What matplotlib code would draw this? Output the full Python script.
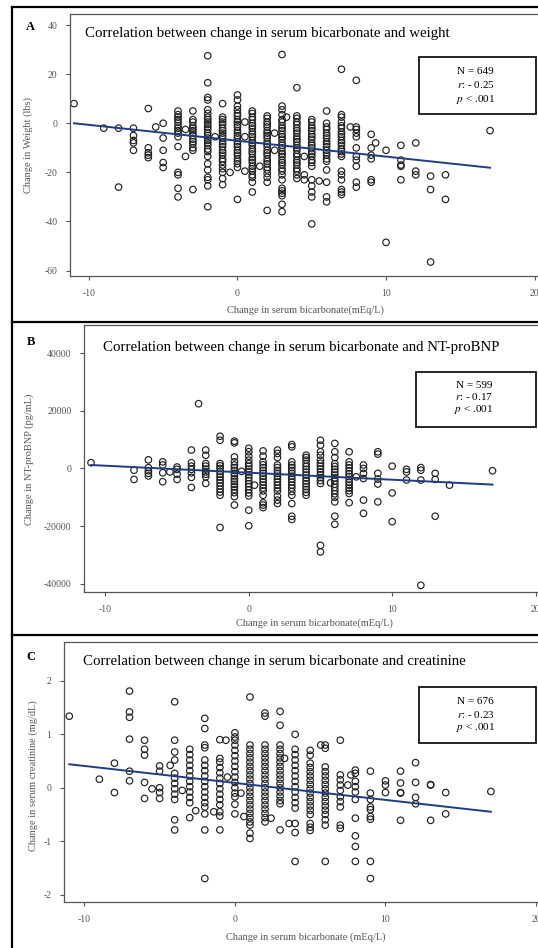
import matplotlib
matplotlib.use("Agg")
import matplotlib.pyplot as plt
from matplotlib.lines import Line2D
from matplotlib.patches import Rectangle

plt.rcParams['font.family'] = ['Liberation Serif', 'DejaVu Serif']
plt.rcParams['mathtext.fontset'] = 'stix'
plt.rcParams['axes.unicode_minus'] = False

W, H = 538, 948

# ---- Panel A: change in weight (lbs) by change in bicarbonate column ----
a_cols = [-11, -9, -8, -7, -6, -5.5, -5, -4, -3.5, -3, -2, -1.5, -1, -0.5, 0, 0.5, 1, 1.5,
          2, 2.5, 3, 3.3, 4, 4.5, 5, 5.5, 6, 7, 7.6, 8, 9, 9.3, 10, 11, 12, 13, 14, 17]
a_vals = [
    [8], [-2], [-2, -26], [-2, -5, -7, -8, -11], [6, -10, -12, -13, -14], [-1.5],
    [0, -6, -11, -16, -18],
    [5, 3.5, 2.5, 1.5, 0.5, -1, -2, -3, -4, -5.5, -9.5, -20, -21, -26.5, -30],
    [-2.5, -13.5],
    [5, 1.5, 0.5, -1, -2, -3, -4, -5, -6.5, -7.5, -8.5, -10, -11, -27],
    [27.5, 16.5, 10.5, 9.5, 5.5, 4, 2.5, 1.5, 0.5, -0.5, -1.5, -2.5, -4, -5, -6, -7, -8, -9,
     -10.5, -11.5, -13.5, -16.5, -19, -22, -23, -25.5, -34],
    [-5.5],
    [8, 2.5, 1.5, 0.5, -0.5, -2, -3, -4, -5, -6, -7.5, -8.5, -9.5, -11, -12, -13, -14.5,
     -15.5, -17, -18.5, -20, -22.5, -25],
    [-20],
    [11.5, 9.5, 7, 5.5, 4, 3, 1.5, 0.5, -0.5, -1.5, -3, -4, -5, -6, -7.5, -8.5, -9.5, -11,
     -12, -13, -14.5, -15.5, -16.5, -18, -31],
    [0.5, -5.5, -19.5],
    [5, 4, 2.5, 1.5, 0, -1, -2, -3.5, -4.5, -5.5, -7, -8, -9, -10.5, -11.5, -12.5, -14, -15,
     -16, -17.5, -18.5, -19.5, -21, -22, -24, -28],
    [-17.5],
    [3, 2, 0.5, -0.5, -1.5, -3, -4, -5, -6, -7.5, -8.5, -9.5, -11, -12, -13, -14.5, -15.5,
     -16.5, -18, -19, -20.5, -22, -24, -35.5],
    [-4, -11],
    [28, 7, 5.5, 3.5, 1.5, 0.5, -1, -2, -3, -4.5, -5.5, -6.5, -8, -9, -10, -11.5, -12.5,
     -13.5, -15, -16, -17, -18.5, -19.5, -21, -23, -26.5, -27.5, -28.5, -29.5, -33, -36],
    [2.5],
    [14.5, 3, 2, 0.5, -0.5, -2, -3, -4, -5.5, -6.5, -7.5, -9, -10, -11, -12.5, -13.5, -15,
     -16, -17, -18.5, -19.5, -21, -22.5],
    [-13.5, -21, -23],
    [1.5, 0.5, -1, -2, -3, -4.5, -5.5, -6.5, -8, -9, -10, -11.5, -12.5, -13.5, -15, -16,
     -17.5, -23, -25.5, -28, -30, -41],
    [-23.5],
    [5, 0, -1.5, -2.5, -4, -5, -6, -7.5, -8.5, -9.5, -11, -12, -13, -14.5, -15.5, -19, -24,
     -30, -32],
    [22, 3.5, 2.5, 0.5, -1, -2, -3.5, -4.5, -5.5, -7, -8, -9, -10.5, -11.5, -12.5, -13.5,
     -19.5, -21, -23, -27, -28, -29],
    [-1.5],
    [17.5, -1.5, -2.5, -4, -5.5, -10, -13.5, -15, -17.5, -24, -26],
    [-4.5, -10, -13, -14.5, -23, -24],
    [-8],
    [-11, -48.5],
    [-9, -15, -17, -17.5, -23],
    [-8, -19.5, -21],
    [-21.5, -27, -56.5],
    [-21, -31],
    [-3],
]

# ---- Panel B: change in NT-proBNP (pg/mL) ----
b_cols = [-11, -8, -7, -6, -5.5, -5, -4, -3.5, -3, -2, -1, -0.5, 0, 0.4, 1, 2, 3, 4, 5,
          5.7, 6, 7, 7.5, 8, 9, 10, 11, 12, 13, 14, 17]
b_vals = [
    [2000], [-600, -3800], [3000, 300, -800, -1700, -2600], [2300, 1200, -1500, -4600],
    [-1200], [500, -300, -2000, -3800],
    [6400, 2000, 800, -300, -1500, -3100, -6600],
    [22500],
    [6400, 4600, 1700, 800, -200, -1200, -2000, -2900, -5200],
    [11200, 9800, 1700, 900, 0, -1000, -2000, -3000, -4000, -5000, -6100, -7200, -8200,
     -9300, -20500],
    [9500, 8900, 4000, 2300, 1200, 300, -700, -1700, -2600, -3600, -4500, -5500, -6400,
     -7400, -8400, -9800, -12700],
    [-1000],
    [7000, 5800, 4300, 2900, 1700, 800, -200, -1200, -2200, -3200, -4200, -5300, -6300,
     -7400, -8500, -9500, -14500, -19900],
    [-5800],
    [6100, 4300, 2300, 1300, 300, -700, -1700, -2700, -3700, -4700, -5800, -6800, -7800,
     -9300, -11900, -12700, -13600],
    [6400, 5200, 3800, 1200, 300, -700, -1700, -2700, -3700, -4700, -5800, -6800, -7800,
     -9600, -11000, -12200],
    [8300, 7500, 2300, 1200, 300, -700, -1700, -2700, -3700, -4700, -5800, -6800, -8000,
     -9300, -12200, -16600, -17700],
    [4600, 3800, 2900, 1700, 700, -300, -1300, -2300, -3300, -4300, -5300, -6300, -7300,
     -8300, -9300],
    [9800, 8100, 5800, 4600, 2900, 1800, 800, -200, -1200, -2200, -3200, -4200, -5200,
     -26700, -29000],
    [-5000],
    [8700, 5800, 3800, 1700, 700, -300, -1300, -2300, -3300, -4400, -5500, -6600, -7700,
     -8800, -10000, -11600, -16600, -19400],
    [5800, 2300, 1200, 200, -800, -1800, -2800, -3800, -4800, -5800, -6800, -7700, -8700,
     -11900],
    [-2900],
    [1200, 0, -1700, -3500, -11000, -15600],
    [5800, 5000, -1700, -3700, -5400, -11600],
    [800, -8500, -18500],
    [-300, -1200, -4000],
    [300, -600, -4000, -40600],
    [-1700, -3800, -16600],
    [-5800],
    [-800],
]

# ---- Panel C: change in serum creatinine (mg/dL) ----
c_cols = [-11, -9, -8, -7, -6, -5.5, -5, -4.3, -4, -3.5, -3, -2.6, -2, -1.4, -1, -0.6, -0.5,
          0, 0.4, 0.6, 1, 2, 2.4, 3, 3.3, 3.6, 4, 5, 5.7, 6, 7, 7.5, 7.7, 8, 9, 10, 11,
          12, 13, 14, 17]
c_vals = [
    [1.34], [0.16], [0.46, -0.09], [1.81, 1.42, 1.32, 0.91, 0.31, 0.13],
    [0.89, 0.72, 0.61, 0.1, -0.2], [-0.02], [0.41, 0.31, 0.0, -0.09, -0.2], [0.42],
    [1.61, 0.89, 0.67, 0.52, 0.27, 0.18, 0.08, -0.02, -0.12, -0.22, -0.6, -0.79],
    [-0.05],
    [0.72, 0.62, 0.52, 0.42, 0.32, 0.22, 0.12, 0.02, -0.08, -0.18, -0.28, -0.56],
    [-0.43],
    [1.3, 1.11, 0.8, 0.75, 0.52, 0.42, 0.32, 0.22, 0.12, 0.02, -0.08, -0.18, -0.28, -0.36,
     -0.49, -0.79, -1.7],
    [-0.45],
    [0.9, 0.55, 0.48, 0.38, 0.28, 0.18, 0.08, -0.02, -0.12, -0.22, -0.32, -0.45, -0.53,
     -0.79],
    [0.89], [0.2],
    [1.03, 0.95, 0.89, 0.8, 0.7, 0.6, 0.5, 0.4, 0.3, 0.2, 0.1, 0.0, -0.1, -0.17, -0.31,
     -0.49],
    [-0.1], [-0.54],
    [1.7, 0.8, 0.72, 0.64, 0.56, 0.48, 0.4, 0.32, 0.24, 0.16, 0.08, 0.0, -0.08, -0.16,
     -0.24, -0.32, -0.4, -0.48, -0.56, -0.64, -0.7, -0.85, -0.95],
    [1.4, 1.34, 0.8, 0.72, 0.64, 0.56, 0.48, 0.4, 0.32, 0.24, 0.16, 0.08, 0.0, -0.08,
     -0.16, -0.24, -0.32, -0.4, -0.48, -0.56, -0.64],
    [-0.57],
    [1.43, 1.17, 0.8, 0.72, 0.64, 0.56, 0.48, 0.4, 0.32, 0.24, 0.16, 0.08, 0.0, -0.08,
     -0.16, -0.24, -0.3, -0.79],
    [0.55], [-0.67],
    [1.0, 0.72, 0.62, 0.52, 0.42, 0.32, 0.22, 0.12, 0.02, -0.08, -0.18, -0.28, -0.38,
     -0.67, -0.84, -1.38],
    [0.7, 0.61, 0.46, 0.38, 0.3, 0.22, 0.14, 0.06, -0.02, -0.1, -0.18, -0.26, -0.34,
     -0.42, -0.5, -0.67, -0.74, -0.8],
    [0.8],
    [0.8, 0.74, 0.39, 0.3, 0.22, 0.14, 0.06, -0.02, -0.1, -0.18, -0.26, -0.34, -0.42,
     -0.5, -0.6, -0.7, -1.38],
    [0.89, 0.24, 0.15, 0.05, -0.05, -0.17, -0.26, -0.36, -0.7, -0.76],
    [0.05], [0.24],
    [0.33, 0.27, 0.12, 0.02, -0.08, -0.22, -0.57, -0.9, -1.1, -1.38],
    [0.31, -0.1, -0.22, -0.36, -0.41, -0.54, -0.59, -1.38, -1.7],
    [0.13, 0.05, -0.09],
    [0.31, 0.09, -0.09, -0.1, -0.61],
    [0.47, 0.1, -0.18, -0.3],
    [0.06, 0.05, -0.61],
    [-0.09, -0.49],
    [-0.07],
]

# fitted regression lines (end points)
fit_x = [-11, 17]
a_fit = [0, -18.1]
b_fit = [1200, -5600]
c_fit = [0.44, -0.45]

titles = ["Correlation between change in serum bicarbonate and weight",
          "Correlation between change in serum bicarbonate and NT-proBNP",
          "Correlation between change in serum bicarbonate and creatinine"]
ylabels = ["Change in Weight (lbs)", "Change in NT-proBNP (pg/mL)",
           "Change in serum creatinine (mg/dL)"]
xlabels = ["Change in serum bicarbonate(mEq/L)", "Change in serum bicarbonate(mEq/L)",
           "Change in serum bicarbonate (mEq/L)"]
stats = [("649", "0.25"), ("599", "0.17"), ("676", "0.23")]
letters = ["A", "B", "C"]
yticks = [[40, 20, 0, -20, -40, -60],
          [40000, 20000, 0, -20000, -40000],
          [2, 1, 0, -1, -2]]
xticks = [-10, 0, 10, 20]


def flatten(cols, vals):
    xs, ys = [], []
    for c, v in zip(cols, vals):
        xs += [c] * len(v)
        ys += v
    return xs, ys


def fx(px):
    return px / W


def fy(py):
    return 1 - py / H


fig = plt.figure(figsize=(W / 100, H / 100), dpi=100)

# layout in pixels
layout = [
    dict(left=70, top=14, bottom=276, xlim=(-11.27, 20.43), ylim=(-62.2, 44.5),
         title=(85, 33), letter=(30, 27), ylab=(28, 145), xlab=(305, 310),
         box=(419, 57, 536, 114), lines=(72, 85, 99)),
    dict(left=84, top=325, bottom=592, xlim=(-11.49, 20.38), ylim=(-42920, 49850),
         title=(103, 348), letter=(31, 342), ylab=(29, 459), xlab=(314, 623),
         box=(416, 372, 536, 427), lines=(385, 397, 409)),
    dict(left=64, top=642, bottom=902, xlim=(-11.35, 20.33), ylim=(-2.14, 2.73),
         title=(83, 662), letter=(31, 657), ylab=(33, 776), xlab=(306, 937),
         box=(419, 687, 536, 743), lines=(701, 714, 728)),
]

data = [(a_cols, a_vals, a_fit), (b_cols, b_vals, b_fit), (c_cols, c_vals, c_fit)]

for i, (cols, vals, fit) in enumerate(data):
    L = layout[i]
    ax = fig.add_axes([fx(L['left']), fy(L['bottom']), fx(541 - L['left']),
                       (L['bottom'] - L['top']) / H])
    xs, ys = flatten(cols, vals)
    ax.scatter(xs, ys, s=22, facecolors='none', edgecolors='#222222', linewidths=0.85,
               zorder=2)
    ax.plot(fit_x, fit, color='#1f3c88', linewidth=1.4, zorder=3)
    ax.set_xlim(*L['xlim'])
    ax.set_ylim(*L['ylim'])
    ax.set_xticks(xticks)
    ax.set_yticks(yticks[i])
    ax.tick_params(labelsize=7, colors='#555555', length=3, width=0.8, pad=6)
    for sp in ax.spines.values():
        sp.set_color('#555555')
        sp.set_linewidth(0.9)

    fig.text(fx(L['title'][0]), fy(L['title'][1]), titles[i], fontsize=10.7,
             ha='left', va='center')
    fig.text(fx(L['letter'][0]), fy(L['letter'][1]), letters[i], fontsize=9,
             fontweight='bold', ha='center', va='center')
    fig.text(fx(L['ylab'][0]), fy(L['ylab'][1]), ylabels[i], fontsize=7.5,
             color='#555555', rotation=90, ha='center', va='center')
    fig.text(fx(L['xlab'][0]), fy(L['xlab'][1]), xlabels[i], fontsize=7.5,
             color='#555555', ha='center', va='center')

    x0, y0, x1, y1 = L['box']
    fig.add_artist(Rectangle((fx(x0), fy(y1)), fx(x1 - x0), (y1 - y0) / H,
                             transform=fig.transFigure, facecolor='white',
                             edgecolor='black', linewidth=1.2, zorder=5))
    n, r = stats[i]
    cx = fx((x0 + x1) / 2 - 2)
    for txt, ly in zip([f"N = {n}", f"$r$: - {r}", "$p$ < .001"], L['lines']):
        fig.text(cx, fy(ly), txt, fontsize=8, ha='center', va='center', zorder=6)

# panel frames
for x0, y0, x1, y1 in [(12, 7, 12, 948), (12, 7, 538, 7), (12, 322, 538, 322),
                       (12, 635, 538, 635)]:
    fig.add_artist(Line2D([fx(x0), fx(x1)], [fy(y0), fy(y1)], color='black',
                          linewidth=1.6, transform=fig.transFigure))

fig.savefig("out.png", dpi=100)
